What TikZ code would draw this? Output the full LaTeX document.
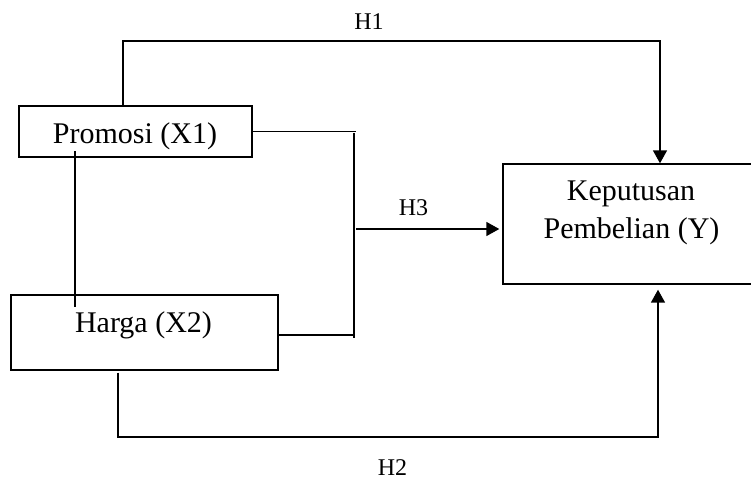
\documentclass[tikz,border=0pt]{standalone}
\usepackage{fontspec}
\setmainfont{Liberation Serif}
\usetikzlibrary{arrows.meta,calc}
\begin{document}
\begin{tikzpicture}[x=0.5pt,y=-0.5pt,
  box/.style={draw,line width=0.7pt,inner sep=0pt,rectangle},
  conn/.style={line width=0.8pt},
  arr/.style={conn,-{Triangle[width=7pt,length=6.5pt]}},
  boxtext/.style={font=\fontsize{15}{18}\selectfont,inner sep=0pt,anchor=base},
  hlab/.style={font=\fontsize{12}{14}\selectfont,inner sep=0pt,anchor=base}]
\useasboundingbox (0,0) rectangle (751,478);
\begin{scope}
\clip (0,0) rectangle (751,478);
% boxes
\node[box,minimum width=116.5pt,minimum height=25.5pt] (promosi) at (135.5,131.5) {};
\node[box,minimum width=133.5pt,minimum height=37.5pt] (harga) at (144.5,332.5) {};
\node[box,minimum width=140pt,minimum height=60pt] (keputusan) at (643,224) {};
% texts
\node[boxtext] (tpromosi) at (135,143) {Promosi (X1)};
\node[boxtext] (tharga) at (143.5,332) {Harga (X2)};
\node[boxtext] (tkep1) at (631,200) {Keputusan};
\node[boxtext] (tkep2) at (631.5,238) {Pembelian (Y)};
% labels
\node[hlab] (h1) at (369,29.3) {H1};
\node[hlab] (h3) at (413.5,215) {H3};
\node[hlab] (h2) at (392.5,475) {H2};
% coordinates
\coordinate (h1a) at (123,41);
\coordinate (h1b) at (660,41);
\coordinate (br) at (356,130);
\coordinate (bt) at (354,133);
\coordinate (bb) at (354,338);
\coordinate (hr) at (354,335);
\coordinate (h3s) at (356,229);
\coordinate (ph1) at (75,151);
\coordinate (ph2) at (75,307);
\coordinate (h2a) at (118,437);
\coordinate (h2b) at (658,437);
% connectors
\draw[arr] (promosi.north -| h1a) -- (h1a) -- (h1b) -- (keputusan.north -| h1b);
\draw[conn] (promosi.east) -- (promosi.east -| br);
\draw[conn] (bt) -- (bb);
\draw[conn] (harga.east |- hr) -- (hr);
\draw[arr,shorten >=1.5pt] (h3s) -- (h3s -| keputusan.west);
\draw[conn] (ph1) -- (ph2);
\draw[arr,shorten >=2.5pt] ($(harga.south -| h2a)+(0,2)$) -- (h2a) -- (h2b) -- (keputusan.south -| h2b);
\end{scope}
\end{tikzpicture}
\end{document}
